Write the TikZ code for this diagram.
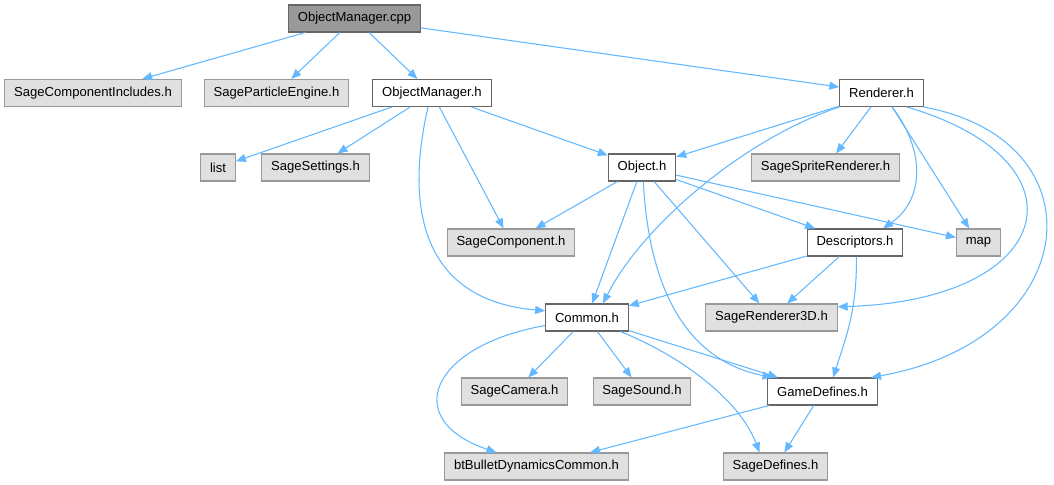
\documentclass[tikz,border=0pt]{standalone}
\usepackage{fontspec}
\setmainfont{Liberation Sans}
\usepackage{xcolor}
\usepackage{tikz}
\usetikzlibrary{arrows.meta, positioning}

\definecolor{edgeblue}{HTML}{63B8FF}
\definecolor{incfill}{HTML}{E0E0E0}
\definecolor{incline}{HTML}{999999}
\definecolor{rootfill}{HTML}{999999}
\definecolor{fileline}{HTML}{666666}

\tikzset{
  depbox/.style={
    draw, rectangle, line width=0.8pt, align=center,
    font=\fontsize{9.8}{11}\selectfont, minimum height=20.25pt,
    inner xsep=7pt, inner ysep=0pt
  },
  incbox/.style={depbox, draw=incline, fill=incfill},
  filebox/.style={depbox, draw=fileline, fill=white},
  rootbox/.style={depbox, draw=fileline, fill=rootfill},
  incarrow/.style={
    -{Triangle[length=7.5pt, width=6pt]}, line width=0.8pt, color=edgeblue
  },
}

\begin{document}
\begin{tikzpicture}[x=0.75pt, y=-0.75pt]
  \useasboundingbox (0,0) rectangle (1054,485);

  % Files
  \node[rootbox] (root) at (354.5,18.5) {ObjectManager.cpp};
  \node[incbox]  (sci)  at (93,93)      {SageComponentIncludes.h};
  \node[incbox]  (spe)  at (276.5,93)   {SageParticleEngine.h};
  \node[filebox] (omh)  at (432,93)     {ObjectManager.h};
  \node[filebox] (ren)  at (881.5,93)   {Renderer.h};
  \node[incbox]  (lst)  at (218,167.5)  {list};
  \node[incbox]  (sset) at (315.5,167.5){SageSettings.h};
  \node[filebox] (obj)  at (642,167.5)  {Object.h};
  \node[incbox]  (ssr)  at (825.5,167.5){SageSpriteRenderer.h};
  \node[incbox]  (scomp) at (511,242.5) {SageComponent.h};
  \node[filebox] (desc) at (855,242.5)  {Descriptors.h};
  \node[incbox]  (mp)   at (978.5,242.5){map};
  \node[filebox] (com)  at (587,317.5)  {Common.h};
  \node[incbox]  (sr3d) at (771.5,317.5){SageRenderer3D.h};
  \node[incbox]  (scam) at (514.5,391.5){SageCamera.h};
  \node[incbox]  (ssnd) at (642,391.5)  {SageSound.h};
  \node[filebox] (gdef) at (822.5,391.5){GameDefines.h};
  \node[incbox]  (btb)  at (536.5,466.5){btBulletDynamicsCommon.h};
  \node[incbox]  (sdef) at (775.5,466.5){SageDefines.h};

  % ObjectManager.cpp
  \draw[incarrow] (root) -- (sci);
  \draw[incarrow] (root) -- (spe);
  \draw[incarrow] (root) -- (omh);
  \draw[incarrow] (root) -- (ren);

  % ObjectManager.h
  \draw[incarrow] (omh) -- (lst);
  \draw[incarrow] (omh) -- (sset);
  \draw[incarrow] (omh) -- (scomp);
  \draw[incarrow] (omh) -- (obj);
  \draw[incarrow] ([xshift=-3pt]omh.south)
    .. controls +(-23,100) and +(-124,-11) .. ([yshift=5pt]com.west);

  % Renderer.h
  \draw[incarrow] (ren) -- (obj);
  \draw[incarrow] (ren) -- (ssr);
  \draw[incarrow] ([xshift=8pt]ren.south) -- ([xshift=-7pt]mp.north);
  \draw[incarrow] (ren.south west)
    .. controls +(-99,33) and +(37,-74) .. ([xshift=12pt]com.north);
  \draw[incarrow] ([xshift=8pt]ren.south)
    .. controls +(33,43) and +(42,-29) .. ([xshift=21pt]desc.north);
  \draw[incarrow] ([xshift=19pt]ren.south)
    .. controls +(183,53) and +(222,-7) .. ([yshift=8pt]sr3d.east);
  \draw[incarrow] (ren.south east)
    .. controls +(180,33) and +(213,-38) .. ([xshift=-5pt]gdef.north east);

  % Object.h
  \draw[incarrow] (obj) -- (scomp);
  \draw[incarrow] (obj) -- (com);
  \draw[incarrow] (obj) -- (desc);
  \draw[incarrow] (obj) -- (mp);
  \draw[incarrow] (obj) -- (sr3d);
  \draw[incarrow] ([xshift=1pt]obj.south)
    .. controls +(5,99) and +(-91,-18) .. ([xshift=4pt]gdef.north west);

  % Descriptors.h
  \draw[incarrow] (desc) -- (com);
  \draw[incarrow] (desc) -- (sr3d);
  \draw[incarrow] ([xshift=1pt]desc.south)
    .. controls +(1,54) and +(12,-38) .. ([xshift=8pt]gdef.north);

  % Common.h
  \draw[incarrow] (com) -- (scam);
  \draw[incarrow] (com) -- (ssnd);
  \draw[incarrow] (com) -- (gdef);
  \draw[incarrow] ([yshift=-6pt]com.west)
    .. controls +(-114,20) and +(-97,-33) .. ([xshift=-30pt]btb.north);
  \draw[incarrow] ([xshift=25pt]com.south)
    .. controls +(60,24) and +(-20,-53) .. ([xshift=-12pt]sdef.north);

  % GameDefines.h
  \draw[incarrow] (gdef) -- (btb);
  \draw[incarrow] (gdef) -- (sdef);
\end{tikzpicture}
\end{document}
